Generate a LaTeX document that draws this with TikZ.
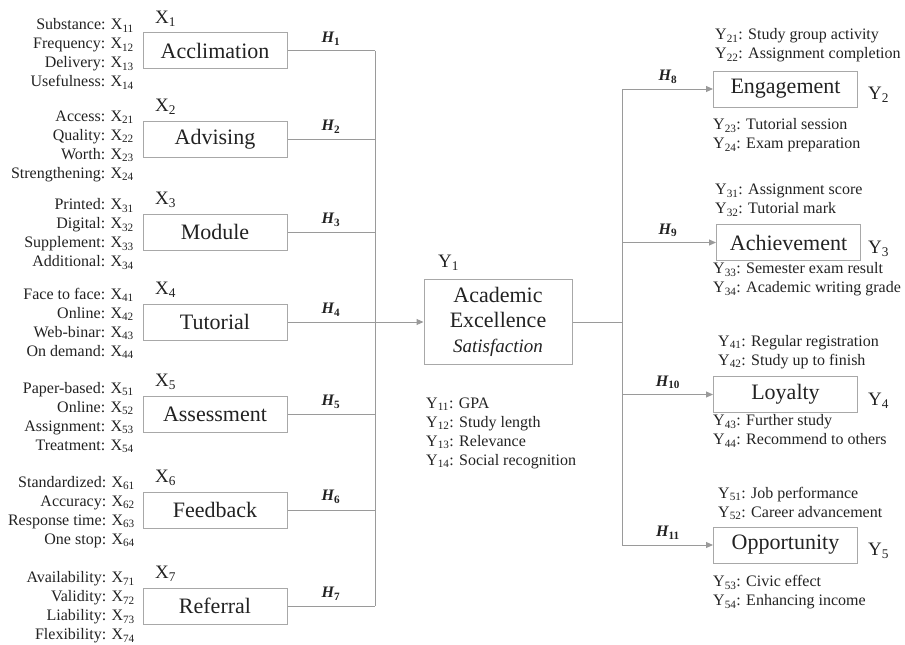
\documentclass[tikz,border=0pt]{standalone}
\usepackage{fontspec}
\setmainfont{Liberation Serif}
\usetikzlibrary{arrows.meta}
\definecolor{ln}{HTML}{9A9A9A}
\definecolor{bx}{HTML}{A8A8A8}
\definecolor{tx}{HTML}{222222}
\newcommand\hyp[1]{{\bfseries\itshape H}\textsubscript{\bfseries\upshape #1}}
\begin{document}
\begin{tikzpicture}[x=1pt,y=-1pt,
  box/.style={draw=bx,line width=1pt,minimum width=144pt,minimum height=36pt,inner sep=0pt,font=\fontsize{22}{25}\selectfont,text=tx},
  ind/.style={font=\fontsize{16}{19}\selectfont,text=tx,inner sep=0pt},
  lab/.style={font=\fontsize{19}{22}\selectfont,text=tx,inner sep=0pt},
  hl/.style={font=\fontsize{16}{19}\selectfont,text=tx,inner sep=0pt},
  conn/.style={draw=ln,line width=1pt},
  arr/.style={conn,-{Triangle[length=7pt,width=6pt]}}]
\useasboundingbox (0,0) rectangle (905,645);

% left boxes
\node[box] (x1) at (215,50.5) {Acclimation};
\node[box] (x2) at (215,139) {Advising};
\node[box] (x3) at (215,232) {Module};
\node[box] (x4) at (215,322) {Tutorial};
\node[box] (x5) at (215,414) {Assessment};
\node[box] (x6) at (215,510) {Feedback};
\node[box] (x7) at (215,606) {Referral};

% X labels
\node[lab,anchor=west] (lx1) at (155,18.5) {X\textsubscript{1}};
\node[lab,anchor=west] (lx2) at (155,107) {X\textsubscript{2}};
\node[lab,anchor=west] (lx3) at (155,200) {X\textsubscript{3}};
\node[lab,anchor=west] (lx4) at (155,290) {X\textsubscript{4}};
\node[lab,anchor=west] (lx5) at (155,382) {X\textsubscript{5}};
\node[lab,anchor=west] (lx6) at (155,478) {X\textsubscript{6}};
\node[lab,anchor=west] (lx7) at (155,574) {X\textsubscript{7}};

% left indicators
\node[ind,align=right,anchor=east] (i1) at (134,54) {Substance: X\textsubscript{11}\\Frequency: X\textsubscript{12}\\Delivery: X\textsubscript{13}\\Usefulness: X\textsubscript{14}};
\node[ind,align=right,anchor=east] (i2) at (134,146) {Access: X\textsubscript{21}\\Quality: X\textsubscript{22}\\Worth: X\textsubscript{23}\\Strengthening: X\textsubscript{24}};
\node[ind,align=right,anchor=east] (i3) at (134,234) {Printed: X\textsubscript{31}\\Digital: X\textsubscript{32}\\Supplement: X\textsubscript{33}\\Additional: X\textsubscript{34}};
\node[ind,align=right,anchor=east] (i4) at (134,323.5) {Face to face: X\textsubscript{41}\\Online: X\textsubscript{42}\\Web-binar: X\textsubscript{43}\\On demand: X\textsubscript{44}};
\node[ind,align=right,anchor=east] (i5) at (134,417.5) {Paper-based: X\textsubscript{51}\\Online: X\textsubscript{52}\\Assignment: X\textsubscript{53}\\Treatment: X\textsubscript{54}};
\node[ind,align=right,anchor=east] (i6) at (135,512) {Standardized: X\textsubscript{61}\\Accuracy: X\textsubscript{62}\\Response time: X\textsubscript{63}\\One stop: X\textsubscript{64}};
\node[ind,align=right,anchor=east] (i7) at (135,607.5) {Availability: X\textsubscript{71}\\Validity: X\textsubscript{72}\\Liability: X\textsubscript{73}\\Flexibility: X\textsubscript{74}};

% center
\node[box,minimum width=148pt,minimum height=85pt,align=center] (y1) at (498,322) {Academic\\Excellence\\{\fontsize{19}{25}\selectfont\itshape Satisfaction}};
\node[lab,anchor=west] (ly1) at (438,263) {Y\textsubscript{1}};
\node[ind,align=left,anchor=west] (iy1) at (426,433) {Y\textsubscript{11}: GPA\\Y\textsubscript{12}: Study length\\Y\textsubscript{13}: Relevance\\Y\textsubscript{14}: Social recognition};

% right boxes
\node[box] (y2) at (785.5,89) {Engagement};
\node[box] (y3) at (788.5,242.5) {Achievement};
\node[box] (y4) at (785.5,394.5) {Loyalty};
\node[box] (y5) at (785.5,545) {Opportunity};

\node[lab,anchor=west] (ly2) at (868,95) {Y\textsubscript{2}};
\node[lab,anchor=west] (ly3) at (868,248.5) {Y\textsubscript{3}};
\node[lab,anchor=west] (ly4) at (868,400.5) {Y\textsubscript{4}};
\node[lab,anchor=west] (ly5) at (868,551) {Y\textsubscript{5}};

\node[ind,align=left,anchor=west] (a2) at (715,45.5) {Y\textsubscript{21}: Study group activity\\Y\textsubscript{22}: Assignment completion};
\node[ind,align=left,anchor=west] (b2) at (713,135.5) {Y\textsubscript{23}: Tutorial session\\Y\textsubscript{24}: Exam preparation};
\node[ind,align=left,anchor=west] (a3) at (715,200) {Y\textsubscript{31}: Assignment score\\Y\textsubscript{32}: Tutorial mark};
\node[ind,align=left,anchor=west] (b3) at (713,279.5) {Y\textsubscript{33}: Semester exam result\\Y\textsubscript{34}: Academic writing grade};
\node[ind,align=left,anchor=west] (a4) at (718,352) {Y\textsubscript{41}: Regular registration\\Y\textsubscript{42}: Study up to finish};
\node[ind,align=left,anchor=west] (b4) at (713,431) {Y\textsubscript{43}: Further study\\Y\textsubscript{44}: Recommend to others};
\node[ind,align=left,anchor=west] (a5) at (718,503.5) {Y\textsubscript{51}: Job performance\\Y\textsubscript{52}: Career advancement};
\node[ind,align=left,anchor=west] (b5) at (713,592) {Y\textsubscript{53}: Civic effect\\Y\textsubscript{54}: Enhancing income};

% buses
\coordinate (bl) at (375,0);
\coordinate (br) at (622,0);

\foreach \n in {x1,x2,x3,x5,x6,x7}{
  \draw[conn] (\n.east) -- (\n.east -| bl);
}
\draw[conn] (x1.east -| bl) -- (x7.east -| bl);
\draw[arr] (x4.east) -- (y1.west);

\draw[conn] (y1.east) -- (y1.east -| br);
\draw[conn] (y2.west -| br) -- (y5.west -| br);
\foreach \n in {y2,y3,y4,y5}{
  \draw[arr] (\n.west -| br) -- (\n.west);
}

% hypothesis labels
\node[hl] (h1) at (331,38.5) {\hyp{1}};
\node[hl] (h2) at (331,127) {\hyp{2}};
\node[hl] (h3) at (331,220) {\hyp{3}};
\node[hl] (h4) at (331,310) {\hyp{4}};
\node[hl] (h5) at (331,402) {\hyp{5}};
\node[hl] (h6) at (331,497) {\hyp{6}};
\node[hl] (h7) at (331,594) {\hyp{7}};
\node[hl] (h8) at (668,77) {\hyp{8}};
\node[hl] (h9) at (668,230.5) {\hyp{9}};
\node[hl] (h10) at (668,382.5) {\hyp{10}};
\node[hl] (h11) at (668,533) {\hyp{11}};
\end{tikzpicture}
\end{document}
